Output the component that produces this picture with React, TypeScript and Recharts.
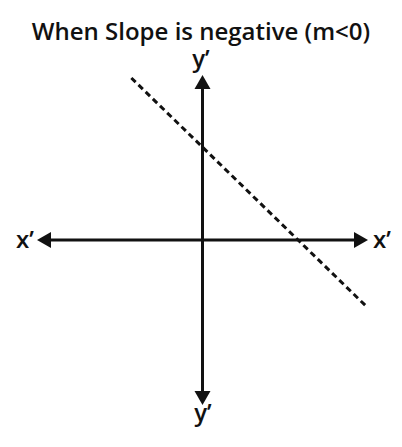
import { ComposedChart, Line, Scatter, XAxis, YAxis } from "recharts";

// axis lines stop at the base of their arrowheads
const xAxisLine = [
  { x: -4.6, y: 0 },
  { x: 4.6, y: 0 },
];
const yAxisLine = [
  { x: 0, y: -4.6 },
  { x: 0, y: 4.6 },
];
const arrowTips = [
  { x: -5, y: 0, dir: "left" },
  { x: 5, y: 0, dir: "right" },
  { x: 0, y: 5, dir: "up" },
  { x: 0, y: -5, dir: "down" },
];
// the line with negative slope
const slopeLine = [
  { x: -2.15, y: 4.91 },
  { x: 5.0, y: -2.06 },
];
const axisLabels = { x: "x\u2019", y: "y\u2019" };
const title = "When Slope is negative (m<0)";

const INK = "#111";
const FONT = "'Open Sans', sans-serif";

function Arrow(props: any) {
  const { cx, cy, payload } = props;
  const len = 14;
  const half = 8;
  let pts = "";
  if (payload.dir === "right") pts = `${cx},${cy} ${cx - len},${cy - half} ${cx - len},${cy + half}`;
  if (payload.dir === "left") pts = `${cx},${cy} ${cx + len},${cy - half} ${cx + len},${cy + half}`;
  if (payload.dir === "up") pts = `${cx},${cy} ${cx - half},${cy + len} ${cx + half},${cy + len}`;
  if (payload.dir === "down") pts = `${cx},${cy} ${cx - half},${cy - len} ${cx + half},${cy - len}`;
  return <polygon points={pts} fill={INK} />;
}

export default function App() {
  return (
    <div style={{ position: "absolute", left: 0, top: 0, background: "#fff" }}>
      <ComposedChart width={402} height={447} margin={{ top: 75, right: 34, bottom: 42, left: 37 }}>
        <XAxis type="number" dataKey="x" domain={[-5, 5]} hide />
        <YAxis type="number" dataKey="y" domain={[-5, 5]} hide />
        <Line data={xAxisLine} dataKey="y" type="linear" stroke={INK} strokeWidth={3} dot={false} isAnimationActive={false} />
        <Line data={yAxisLine} dataKey="y" type="linear" stroke={INK} strokeWidth={3} dot={false} isAnimationActive={false} />
        <Line
          data={slopeLine}
          dataKey="y"
          type="linear"
          stroke={INK}
          strokeWidth={3}
          strokeDasharray="6 4"
          dot={false}
          isAnimationActive={false}
        />
        <Scatter data={arrowTips} dataKey="y" shape={Arrow} isAnimationActive={false} />
        <text x={201} y={40} textAnchor="middle" fontFamily={FONT} fontSize={24} fontWeight={600} fill={INK}>
          {title}
        </text>
        <text x={201} y={67} textAnchor="middle" fontFamily={FONT} fontSize={24} fontWeight={600} fill={INK}>
          {axisLabels.y}
        </text>
        <text x={203} y={421} textAnchor="middle" fontFamily={FONT} fontSize={24} fontWeight={600} fill={INK}>
          {axisLabels.y}
        </text>
        <text x={25} y={248} textAnchor="middle" fontFamily={FONT} fontSize={24} fontWeight={600} fill={INK}>
          {axisLabels.x}
        </text>
        <text x={382} y={248} textAnchor="middle" fontFamily={FONT} fontSize={24} fontWeight={600} fill={INK}>
          {axisLabels.x}
        </text>
      </ComposedChart>
    </div>
  );
}
